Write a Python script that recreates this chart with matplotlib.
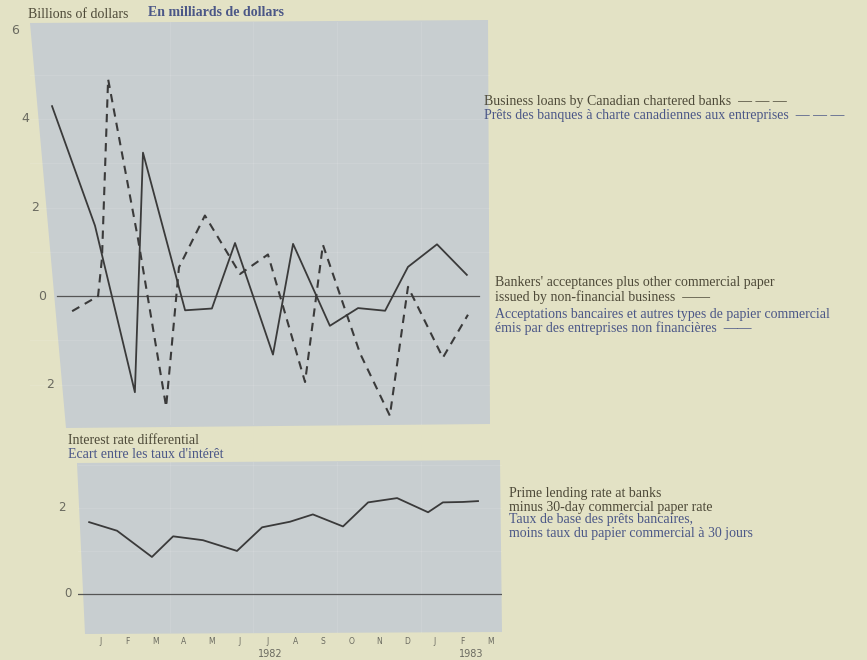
import numpy as np
import matplotlib
matplotlib.use("Agg")
import matplotlib.pyplot as plt
from matplotlib.patches import Polygon

W, H = 867, 660

# x values are in months, 0 = January 1982
paper_x = [-1.72, -0.18, 1.25, 1.54, 3.05, 4.01, 4.84, 6.20, 6.92, 8.24, 9.25, 10.22, 11.04, 12.08, 13.15]
paper_y = [4.29, 1.59, -2.17, 3.24, -0.32, -0.28, 1.20, -1.32, 1.18, -0.67, -0.27, -0.33, 0.66, 1.17, 0.48]

loans_x = [-1.0, -0.07, 0.07, 0.29, 1.36, 2.37, 2.83, 3.76, 5.02, 6.02, 7.35, 7.99, 9.32, 10.39, 11.04, 12.29, 13.19]
loans_y = [-0.34, 0.0, 0.85, 4.9, 1.3, -2.5, 0.65, 1.82, 0.5, 0.94, -1.94, 1.16, -1.29, -2.7, 0.21, -1.39, -0.42]

spread_x = [-0.39, 0.61, 1.86, 2.62, 3.69, 4.91, 5.81, 6.81, 7.63, 8.71, 9.61, 10.65, 11.76, 12.29, 13.01, 13.55]
spread_y = [1.67, 1.47, 0.86, 1.34, 1.25, 1.0, 1.55, 1.68, 1.85, 1.57, 2.13, 2.23, 1.90, 2.13, 2.14, 2.16]

month_labels = ["J", "F", "M", "A", "M", "J", "J", "A", "S", "O", "N", "D", "J", "F", "M"]
year_labels = ["1982", "1983"]
year_pos = [6.1, 13.3]

top_ticks = [6, 4, 2, 0, -2]
top_tick_text = ["6", "4", "2", "0", "2"]
bot_ticks = [2, 0]
bot_tick_text = ["2", "0"]

PAPER = "#e3e2c5"
PANEL = "#c8ced0"
INK = "#3a3a3a"
EN = "#4d4938"
FR = "#4b5787"
SERIF = "Liberation Serif"
FS = 10


def fx(px):
    return px / W


def fy(py):
    return 1 - py / H


def ax_rect(left, top, right, bottom):
    return [fx(left), fy(bottom), (right - left) / W, (bottom - top) / H]


fig = plt.figure(figsize=(W / 100, H / 100), dpi=100)
fig.patch.set_facecolor(PAPER)

# grey panels (photo is slightly keystoned)
for quad in [[(30, 23), (488, 20), (490, 424), (66, 428)],
             [(77, 463), (500, 460), (502, 632), (85, 634)]]:
    fig.patches.append(Polygon([(fx(a), fy(b)) for a, b in quad], closed=True,
                               transform=fig.transFigure, facecolor=PANEL,
                               edgecolor="none", zorder=-5))

# ---- top panel
ax = fig.add_axes(ax_rect(30, 22, 490, 425))
ax.set_facecolor("none")
ax.set_xlim(-2.51, 13.98)
ax.set_ylim(-2.91, 6.19)
for v in [-2, -1, 1, 2, 3, 4, 5]:
    ax.axhline(v, color="white", lw=0.6, alpha=0.12, zorder=1)
for v in [2.5, 5.5, 8.5, 11.5]:
    ax.axvline(v, color="white", lw=0.6, alpha=0.12, zorder=1)
ax.plot([-1.54, 13.6], [0, 0], color="#555555", lw=0.9, zorder=2)
ax.plot(paper_x, paper_y, color=INK, lw=1.3, zorder=3)
ax.plot(loans_x, loans_y, color=INK, lw=1.5, linestyle=(0, (4, 3)), zorder=3)
for frac, v, t in zip([-0.033, -0.011, 0.011, 0.026, 0.043], top_ticks, top_tick_text):
    ax.text(frac, v, t, transform=ax.get_yaxis_transform(), ha="center", va="center",
            fontsize=9, color="#6a6a60", family="DejaVu Sans")
ax.set_xticks([])
ax.set_yticks([])
for s in ax.spines.values():
    s.set_visible(False)

# ---- bottom panel
bx = fig.add_axes(ax_rect(78, 462, 502, 633))
bx.set_facecolor("none")
bx.set_xlim(-0.79, 14.41)
bx.set_ylim(-0.91, 3.07)
for v in [1, 2, 3]:
    bx.axhline(v, color="white", lw=0.6, alpha=0.12, zorder=1)
for v in [2.5, 5.5, 8.5, 11.5]:
    bx.axvline(v, color="white", lw=0.6, alpha=0.12, zorder=1)
bx.axhline(0, color="#555555", lw=0.9, zorder=2)
bx.plot(spread_x, spread_y, color=INK, lw=1.3, zorder=3)
for frac, v, t in zip([-0.038, -0.024], bot_ticks, bot_tick_text):
    bx.text(frac, v, t, transform=bx.get_yaxis_transform(), ha="center", va="center",
            fontsize=8.5, color="#6a6a60", family="DejaVu Sans")
bx.set_yticks([])
bx.set_xticks(np.arange(len(month_labels)))
bx.set_xticklabels(month_labels, fontsize=5.5, color="#6a6a60", family="DejaVu Sans")
bx.tick_params(axis="x", length=0, pad=3)
for t, p in zip(year_labels, year_pos):
    bx.text(p, -0.122, t, transform=bx.get_xaxis_transform(), ha="center", va="center",
            fontsize=7, color="#6a6a60", family="DejaVu Sans")
for s in bx.spines.values():
    s.set_visible(False)

# ---- titles
fig.text(fx(28), fy(14), "Billions of dollars", fontsize=FS, color=EN, family=SERIF, va="center")
fig.text(fx(148), fy(13), "En milliards de dollars", fontsize=FS, color=FR, family=SERIF,
         va="center", fontweight="bold")
fig.text(fx(68), fy(440), "Interest rate differential", fontsize=FS, color=EN, family=SERIF, va="center")
fig.text(fx(68), fy(455), "Ecart entre les taux d'intérêt", fontsize=FS, color=FR, family=SERIF, va="center")

# ---- right-hand labels
side = [
    (484, 101, "Business loans by Canadian chartered banks  — — —", EN),
    (484, 115, "Prêts des banques à charte canadiennes aux entreprises  — — —", FR),
    (495, 283, "Bankers' acceptances plus other commercial paper", EN),
    (495, 297, "issued by non-financial business  ——", EN),
    (495, 314, "Acceptations bancaires et autres types de papier commercial", FR),
    (495, 328, "émis par des entreprises non financières  ——", FR),
    (509, 494, "Prime lending rate at banks", EN),
    (509, 507, "minus 30-day commercial paper rate", EN),
    (509, 520, "Taux de base des prêts bancaires,", FR),
    (509, 533, "moins taux du papier commercial à 30 jours", FR),
]
for x, y, t, c in side:
    fig.text(fx(x), fy(y), t, fontsize=FS, color=c, family=SERIF, va="center")

fig.savefig("out.png", dpi=100, facecolor=fig.get_facecolor())
